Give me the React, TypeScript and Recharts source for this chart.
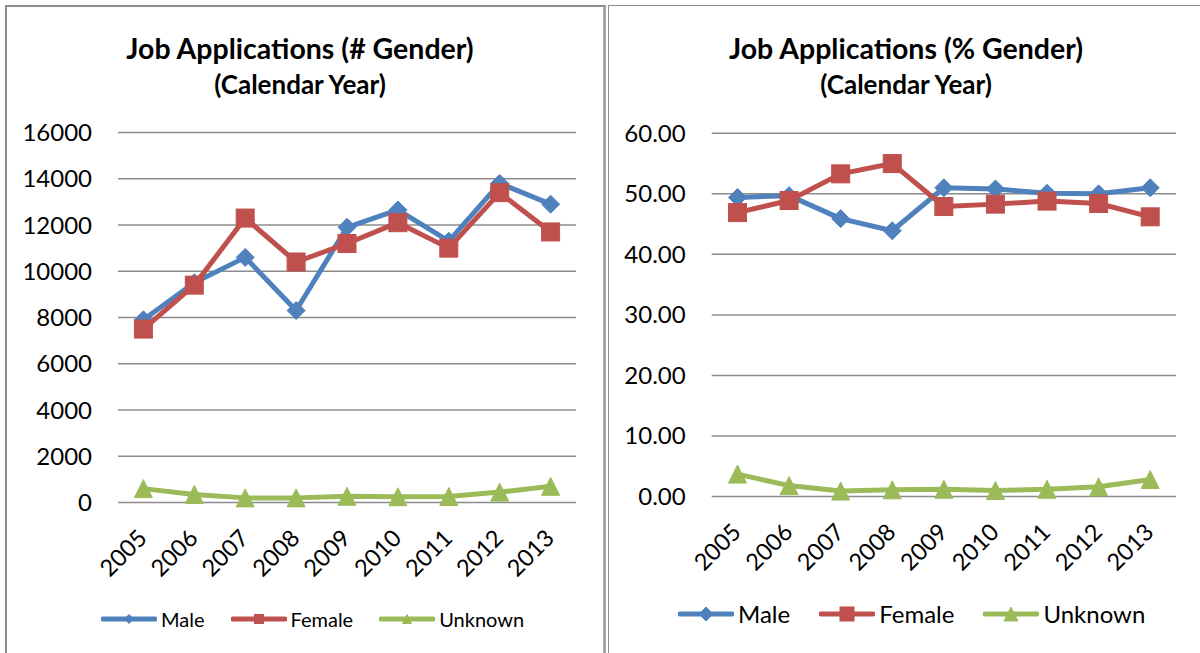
import React from 'react';
import { LineChart, Line, XAxis, YAxis, CartesianGrid, Legend } from 'recharts';

const FONT = 'Lato, "Open Sans", sans-serif';

const years = ['2005', '2006', '2007', '2008', '2009', '2010', '2011', '2012', '2013'];

// applications by gender (count)
const maleCount = [7900, 9500, 10600, 8300, 11900, 12650, 11300, 13800, 12900];
const femaleCount = [7500, 9400, 12300, 10400, 11200, 12100, 11000, 13400, 11700];
const unknownCount = [600, 350, 200, 200, 270, 250, 260, 450, 700];

// applications by gender (%)
const malePct = [49.4, 49.7, 45.9, 43.9, 51.0, 50.8, 50.1, 50.0, 51.0];
const femalePct = [46.9, 48.9, 53.3, 55.0, 47.9, 48.3, 48.8, 48.4, 46.2];
const unknownPct = [3.7, 1.8, 0.9, 1.1, 1.2, 1.0, 1.2, 1.6, 2.8];

const countTicks = [0, 2000, 4000, 6000, 8000, 10000, 12000, 14000, 16000];
const pctTicks = [0, 10, 20, 30, 40, 50, 60];

const seriesNames = ['Male', 'Female', 'Unknown'];

const COLORS: { [k: string]: string } = {
  Male: '#4F81BD',
  Female: '#C0504D',
  Unknown: '#9BBB59',
};
const SHAPES: { [k: string]: string } = {
  Male: 'diamond',
  Female: 'square',
  Unknown: 'triangle',
};

const countData = years.map((year, i) => ({
  year,
  Male: maleCount[i],
  Female: femaleCount[i],
  Unknown: unknownCount[i],
}));

const pctData = years.map((year, i) => ({
  year,
  Male: malePct[i],
  Female: femalePct[i],
  Unknown: unknownPct[i],
}));

function Marker({ shape, cx, cy, size, color }: any) {
  const r = size / 2;
  if (shape === 'diamond') {
    return (
      <polygon
        points={`${cx},${cy - r} ${cx + r},${cy} ${cx},${cy + r} ${cx - r},${cy}`}
        fill={color}
        stroke={color}
      />
    );
  }
  if (shape === 'square') {
    return <rect x={cx - r} y={cy - r} width={size} height={size} fill={color} stroke={color} />;
  }
  return (
    <polygon
      points={`${cx},${cy - r} ${cx + r},${cy + r} ${cx - r},${cy + r}`}
      fill={color}
      stroke={color}
    />
  );
}

const makeDot = (name: string, size: number) => (props: any) => {
  const { cx, cy, index } = props;
  return <Marker key={`${name}-${index}`} shape={SHAPES[name]} cx={cx} cy={cy} size={size} color={COLORS[name]} />;
};

// rotated year labels like Excel
const YearTick = (props: any) => {
  const { x, y, payload } = props;
  const px = x + 5;
  const py = y + 37;
  return (
    <text
      x={px}
      y={py}
      transform={`rotate(-45, ${px}, ${py})`}
      textAnchor="end"
      fontSize={23.5}
      fontFamily={FONT}
      fill="#000"
    >
      {payload.value}
    </text>
  );
};

const makeLegend = (fontSize: number, markerSize: number, gap: number) => () => (
  <div style={{ display: 'flex', alignItems: 'center', fontFamily: FONT, fontSize, color: '#000', lineHeight: 1.2 }}>
    {seriesNames.map((name) => (
      <div key={name} style={{ display: 'flex', alignItems: 'center', marginRight: gap }}>
        <svg width={56} height={20} style={{ display: 'block' }}>
          <line x1={2} y1={10} x2={54} y2={10} stroke={COLORS[name]} strokeWidth={5} strokeLinecap="round" />
          <Marker shape={SHAPES[name]} cx={28} cy={10} size={markerSize} color={COLORS[name]} />
        </svg>
        <span style={{ marginLeft: 4 }}>{name}</span>
      </div>
    ))}
  </div>
);

const titleStyle: React.CSSProperties = {
  position: 'absolute',
  width: 600,
  textAlign: 'center',
  fontFamily: FONT,
  fontWeight: 'bold',
  color: '#000',
};

const tickStyle = { fontSize: 24, fill: '#000', fontFamily: FONT };

export default function App() {
  const lines = seriesNames.map((name) => (
    <Line
      key={name}
      type="linear"
      dataKey={name}
      name={name}
      stroke={COLORS[name]}
      strokeWidth={5}
      strokeLinejoin="round"
      dot={makeDot(name, 18)}
      activeDot={false}
      isAnimationActive={false}
    />
  ));

  return (
    <div style={{ position: 'absolute', left: 0, top: 0, width: 1200, height: 653, background: '#fff', overflow: 'hidden' }}>
      {/* panel frames */}
      <div
        style={{
          position: 'absolute',
          left: 5,
          top: 5,
          width: 596,
          height: 700,
          borderLeft: '2px solid #8c8c8c',
          borderTop: '2px solid #8c8c8c',
          borderRight: '3px solid #a6a6a6',
        }}
      />
      <div
        style={{
          position: 'absolute',
          left: 608,
          top: 5,
          width: 600,
          height: 700,
          borderLeft: '1.5px solid #8c8c8c',
          borderTop: '1.5px solid #8c8c8c',
        }}
      />

      <div style={{ ...titleStyle, left: 0, top: 31, fontSize: 28.5, lineHeight: '34px' }}>Job Applications (# Gender)</div>
      <div style={{ ...titleStyle, left: 0, top: 69, fontSize: 26, lineHeight: '30px' }}>(Calendar Year)</div>
      <div style={{ ...titleStyle, left: 606, top: 31, fontSize: 28.5, lineHeight: '34px' }}>Job Applications (% Gender)</div>
      <div style={{ ...titleStyle, left: 606, top: 69, fontSize: 26, lineHeight: '30px' }}>(Calendar Year)</div>

      <div style={{ position: 'absolute', left: 0, top: 0 }}>
        <LineChart width={600} height={653} data={countData} margin={{ top: 132.5, right: 24, bottom: 50.5, left: 0 }}>
          <CartesianGrid vertical={false} stroke="#8c8c8c" strokeWidth={1.5} />
          <XAxis
            dataKey="year"
            axisLine={false}
            tickLine={false}
            tickSize={0}
            tickMargin={0}
            height={100}
            interval={0}
            padding={{ left: 25.4, right: 25.4 }}
            tick={<YearTick />}
          />
          <YAxis
            domain={[0, 16000]}
            ticks={countTicks}
            axisLine={false}
            tickLine={false}
            tickSize={0}
            tickMargin={26}
            width={118}
            tick={tickStyle}
          />
          {lines}
          <Legend
            layout="horizontal"
            verticalAlign="middle"
            align="center"
            wrapperStyle={{ left: 101, top: 607, width: 480 }}
            content={makeLegend(20, 9, 26)}
          />
        </LineChart>
      </div>

      <div style={{ position: 'absolute', left: 600, top: 0 }}>
        <LineChart width={600} height={653} data={pctData} margin={{ top: 133.3, right: 24, bottom: 56.5, left: 0 }}>
          <CartesianGrid vertical={false} stroke="#8c8c8c" strokeWidth={1.5} />
          <XAxis
            dataKey="year"
            axisLine={false}
            tickLine={false}
            tickSize={0}
            tickMargin={0}
            height={100}
            interval={0}
            padding={{ left: 25.8, right: 25.8 }}
            tick={<YearTick />}
          />
          <YAxis
            domain={[0, 60]}
            ticks={pctTicks}
            axisLine={false}
            tickLine={false}
            tickSize={0}
            tickMargin={26}
            width={111.7}
            tickFormatter={(v: number) => v.toFixed(2)}
            tick={tickStyle}
          />
          {lines}
          <Legend
            layout="horizontal"
            verticalAlign="middle"
            align="center"
            wrapperStyle={{ left: 78, top: 600, width: 520 }}
            content={makeLegend(24, 14, 29)}
          />
        </LineChart>
      </div>
    </div>
  );
}
